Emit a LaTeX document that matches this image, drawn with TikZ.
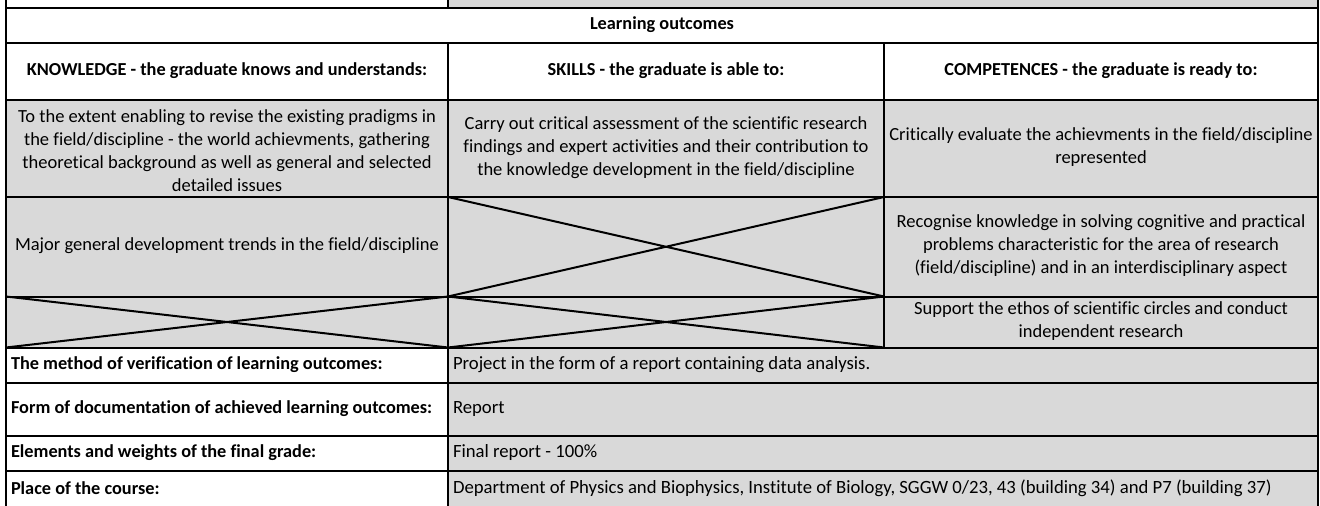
\documentclass[tikz,border=0pt]{standalone}
\usepackage{fontspec}
\setmainfont{Carlito}[Ligatures=NoCommon]
\definecolor{cellgray}{HTML}{D9D9D9}

\begin{document}
\begin{tikzpicture}[x=1pt,y=-1pt,line width=2pt,
  txt/.style={font=\fontsize{18.5}{23}\selectfont,align=center,inner sep=0pt},
  hdr/.style={font=\fontsize{18.3}{23}\selectfont\bfseries,inner sep=0pt},
  lbl/.style={font=\fontsize{18.3}{23}\selectfont\bfseries,anchor=west,inner sep=0pt},
  val/.style={font=\fontsize{18.7}{23}\selectfont,anchor=west,inner sep=0pt}]
\useasboundingbox (0,0) rectangle (1320,506);

% gray cells
\fill[cellgray] (448,0) rectangle (1318,7.5);
\fill[cellgray] (6,100) rectangle (1318,347.5);
\fill[cellgray] (448,347.5) rectangle (1318,506);

% outer border and row lines
\draw (6,0) -- (6,506);
\draw (1318,0) -- (1318,506);
\draw (6,7.5) -- (1318,7.5);
\draw (6,43) -- (1318,43);
\draw (6,100) -- (1318,100);
\draw (6,197) -- (1318,197);
\draw (6,296.5) -- (1318,296.5);
\draw (6,347.5) -- (1318,347.5);
\draw (6,382.5) -- (1318,382.5);
\draw (6,436) -- (1318,436);
\draw (6,470.5) -- (1318,470.5);

% column lines
\draw (448,0) -- (448,7.5);
\draw (448,43) -- (448,506);
\draw (884,43) -- (884,347.5);

% crossed out cells
\draw (448,197) -- (884,296.5) (448,296.5) -- (884,197);
\draw (6,296.5) -- (448,347.5) (6,347.5) -- (448,296.5);
\draw (448,296.5) -- (884,347.5) (448,347.5) -- (884,296.5);

% header texts
\node[hdr] (lo) at (662,25) {Learning outcomes};
\node[hdr] (know) at (227,71) {KNOWLEDGE - the graduate knows and understands:};
\node[hdr] (skill) at (666,71) {SKILLS - the graduate is able to:};
\node[hdr] (comp) at (1101,71) {COMPETENCES - the graduate is ready to:};

% outcomes
\node[txt] (k1) at (227,151) {To the extent enabling to revise the existing pradigms in\\
  the field/discipline - the world achievments, gathering\\
  theoretical background as well as general and selected\\
  detailed issues};
\node[txt] (s1) at (666,148) {Carry out critical assessment of the scientific research\\
  findings and expert activities and their contribution to\\
  the knowledge development in the field/discipline};
\node[txt] (c1) at (1101,147) {Critically evaluate the achievments in the field/discipline\\
  represented};
\node[txt] (k2) at (227,246) {Major general development trends in the field/discipline};
\node[txt] (c2) at (1101,246) {Recognise knowledge in solving cognitive and practical\\
  problems characteristic for the area of research\\
  (field/discipline) and in an interdisciplinary aspect};
\node[txt] (c3) at (1101,321) {Support the ethos of scientific circles and conduct\\
  independent research};

% bottom rows
\node[lbl] (meth) at (10,365) {The method of verification of learning outcomes:};
\node[lbl] (form) at (10,409) {Form of documentation of achieved learning outcomes:};
\node[lbl] (elem) at (10,453) {Elements and weights of the final grade:};
\node[lbl] (place) at (10,488) {Place of the course:};
\node[val] (methv) at (452,365) {Project in the form of a report containing data analysis.};
\node[val] (formv) at (452,409) {Report};
\node[val] (elemv) at (452,453) {Final report - 100\%};
\node[val] (placev) at (452,488) {Department of Physics and Biophysics, Institute of Biology, SGGW 0/23, 43 (building 34) and P7 (building 37)};
\end{tikzpicture}
\end{document}
